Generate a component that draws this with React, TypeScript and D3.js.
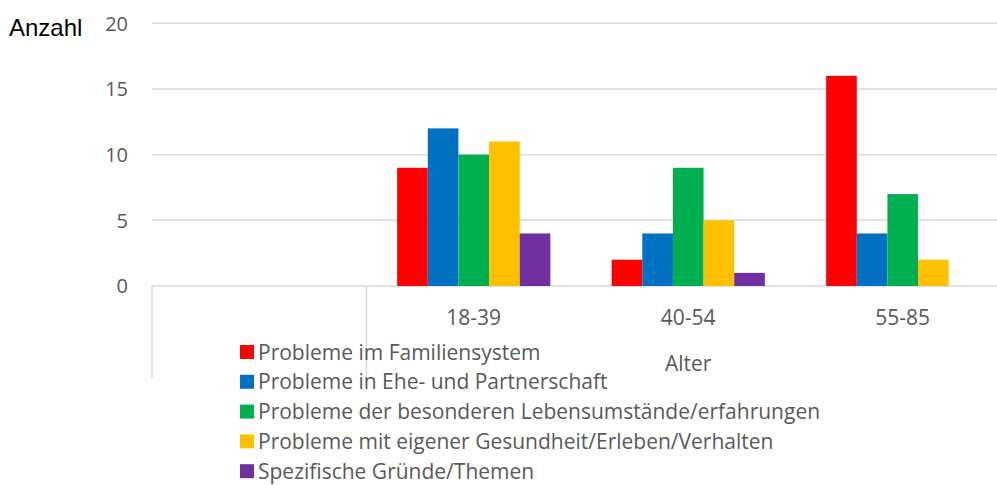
import React from "react";
import * as d3 from "d3";

const categories = ["", "18-39", "40-54", "55-85"];
const seriesNames = [
  "Probleme im Familiensystem",
  "Probleme in Ehe- und Partnerschaft",
  "Probleme der besonderen Lebensumstände/erfahrungen",
  "Probleme mit eigener Gesundheit/Erleben/Verhalten",
  "Spezifische Gründe/Themen",
];
const seriesColors = ["#FF0000", "#0070C0", "#00B050", "#FFC000", "#7030A0"];
// values per series, indexed by category (first category is empty)
const familiensystem = [null, 9, 2, 16];
const ehePartnerschaft = [null, 12, 4, 4];
const lebensumstaende = [null, 10, 9, 7];
const gesundheit = [null, 11, 5, 2];
const spezifisch = [null, 4, 1, 0];
const seriesValues = [familiensystem, ehePartnerschaft, lebensumstaende, gesundheit, spezifisch];
const yTicks = [0, 5, 10, 15, 20];
const outerGroups = [
  { label: "", from: 0, to: 0 },
  { label: "Alter", from: 1, to: 3 },
];
const yAxisTitle = "Anzahl";

const W = 997;
const H = 485;

export default function App() {
  const x = d3.scaleBand<string>().domain(categories).range([152, 1010]).padding(0);
  const y = d3.scaleLinear().domain([0, 20]).range([286, 23.3]);
  const inner = d3
    .scaleBand<string>()
    .domain(seriesNames)
    .range([0, x.bandwidth()])
    .paddingInner(0)
    .paddingOuter(1);
  const font = "'Open Sans', 'Noto Sans', sans-serif";
  const gray = "#595959";
  const grid = "#d9d9d9";

  const boundaries = outerGroups.map((g) => x(categories[g.from]) as number);

  return (
    <svg
      width={W}
      height={H}
      style={{ position: "absolute", left: 0, top: 0, background: "#fff" }}
      fontFamily={font}
    >
      {yTicks.map((t) => (
        <g key={t}>
          <line x1={152} x2={W} y1={y(t)} y2={y(t)} stroke={grid} strokeWidth={1.5} />
          <text x={128} y={y(t)} dy="0.36em" textAnchor="end" fontSize={20} fill={gray}>
            {t}
          </text>
        </g>
      ))}
      <text x={9} y={36} fontSize={24} fill="#000" fontFamily="'Liberation Sans', Arial, sans-serif">
        {yAxisTitle}
      </text>
      {boundaries.map((bx, i) => (
        <line key={i} x1={bx} x2={bx} y1={286} y2={378} stroke={grid} strokeWidth={1.5} />
      ))}
      {seriesNames.map((s, si) =>
        categories.map((c, ci) => {
          const v = seriesValues[si][ci];
          if (v == null) return null;
          const bx = (x(c) as number) + (inner(s) as number);
          return (
            <rect
              key={s + c}
              x={bx}
              y={y(v)}
              width={inner.bandwidth()}
              height={y(0) - y(v)}
              fill={seriesColors[si]}
            />
          );
        })
      )}
      {categories.map((c) =>
        c ? (
          <text
            key={c}
            x={(x(c) as number) + x.bandwidth() / 2}
            y={325}
            textAnchor="middle"
            fontSize={21}
            fill={gray}
          >
            {c}
          </text>
        ) : null
      )}
      {outerGroups.map((g, i) =>
        g.label ? (
          <text
            key={i}
            x={((x(categories[g.from]) as number) + (x(categories[g.to]) as number) + x.bandwidth()) / 2}
            y={371}
            textAnchor="middle"
            fontSize={21}
            fill={gray}
          >
            {g.label}
          </text>
        ) : null
      )}
      {seriesNames.map((s, i) => {
        const cy = 352 + i * 29.8;
        return (
          <g key={s}>
            <rect x={240} y={cy - 7} width={14} height={14} fill={seriesColors[i]} />
            <text x={258} y={cy} dy="0.36em" fontSize={21} fill={gray}>
              {s}
            </text>
          </g>
        );
      })}
    </svg>
  );
}
